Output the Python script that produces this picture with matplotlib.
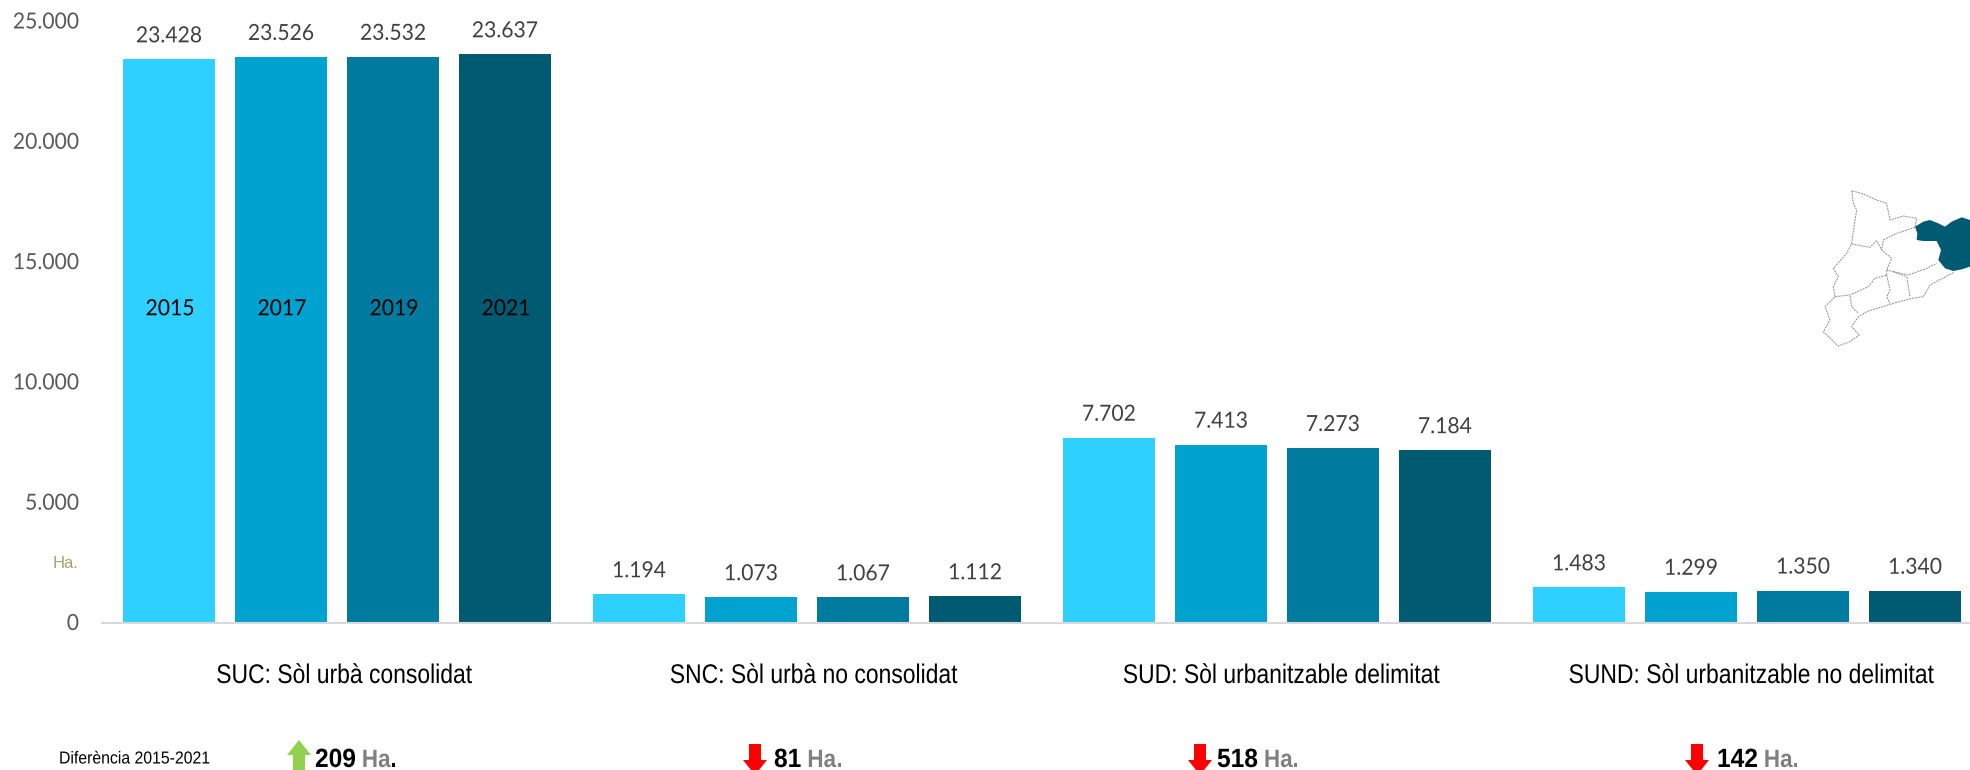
import matplotlib
matplotlib.use("Agg")
import matplotlib.pyplot as plt
from matplotlib.patches import Polygon
from matplotlib.patheffects import AbstractPathEffect
from matplotlib.transforms import Affine2D

W, H = 1970, 770

# data
categories = ["SUC: Sòl urbà consolidat", "SNC: Sòl urbà no consolidat",
              "SUD: Sòl urbanitzable delimitat", "SUND: Sòl urbanitzable no delimitat"]
years = ["2015", "2017", "2019", "2021"]
values_2015 = [23428, 1194, 7702, 1483]
values_2017 = [23526, 1073, 7413, 1299]
values_2019 = [23532, 1067, 7273, 1350]
values_2021 = [23637, 1112, 7184, 1340]
diffs = ["209", "81", "518", "142"]
diff_up = [True, False, False, False]
yticks = [0, 5000, 10000, 15000, 20000, 25000]
colors = ["#2ED0FF", "#00A2D0", "#007BA0", "#005A72"]

series = [values_2015, values_2017, values_2019, values_2021]


class Squeeze(AbstractPathEffect):  # narrows text horizontally around pixel cx
    def __init__(self, sx, cx):
        super().__init__()
        self.sx = sx
        self.cx = cx

    def draw_path(self, renderer, gc, tpath, affine, rgbFace=None):
        squeeze = Affine2D().translate(-self.cx, 0).scale(self.sx, 1).translate(self.cx, 0)
        renderer.draw_path(gc, tpath, affine + squeeze, rgbFace)


def fmt(v):  # dots as thousands separator
    return "{:,}".format(v).replace(",", ".")


def ptext(x, y, s, sx=1.0, **kw):  # text placed in figure pixels, optionally narrowed
    kw.setdefault("va", "center")
    t = fig.text(x / W, 1 - y / H, s, **kw)
    if sx != 1.0:
        t.set_path_effects([Squeeze(sx, x)])
    return t


fig = plt.figure(figsize=(W / 100, H / 100), dpi=100, facecolor="white")

# axes in pixels: x 102-1970, y 21.5-623
ax = fig.add_axes([102 / W, 1 - 623 / H, (W - 102) / W, (623 - 21.5) / H])
ax.set_ylim(0, 25000)
group_pitch, bar_pitch, bar_w = 470, 112, 92
ax.set_xlim(102, W)

for s, vals in enumerate(series):
    xs = [123 + g * group_pitch + s * bar_pitch + bar_w / 2 for g in range(len(vals))]
    ax.bar(xs, vals, width=bar_w, color=colors[s])
    for x, v in zip(xs, vals):
        lab = ax.annotate(fmt(v), (x, v), xytext=(0, 23), textcoords="offset pixels",
                          ha="center", va="center", fontsize=16, family="Lato", color="#404040")
        lab.set_path_effects([Squeeze(0.95, ax.transData.transform((x, v))[0])])
    yr = ax.text(xs[0] + 1, 13040, years[s], ha="center", va="center", fontsize=16,
                 family="Lato", color="black")
    yr.set_path_effects([Squeeze(0.95, ax.transData.transform((xs[0] + 1, 0))[0])])

for side in ["top", "right", "left"]:
    ax.spines[side].set_visible(False)
ax.spines["bottom"].set_color("#D9D9D9")
ax.spines["bottom"].set_linewidth(1.5)
ax.set_xticks([])
ax.set_yticks([])
ax.patch.set_alpha(0)

for t in yticks:
    py = 623 - t / 25000 * (623 - 21.5)
    ptext(79, py + 1, fmt(t), sx=0.95, ha="right", fontsize=16, family="Lato", color="#595959")

ptext(53, 563, "Ha.", fontsize=12, family="Liberation Sans", color="#A89F6E")
ptext(59, 759, "Diferència 2015-2021", sx=0.91, fontsize=12.5, family="Liberation Sans", color="black")

cat_x = [344, 813.5, 1281, 1751]
for x, c in zip(cat_x, categories):
    ptext(x, 676, c, sx=0.85, ha="center", fontsize=19.4, family="Liberation Sans", color="black")

# overlay in pixel coordinates for arrows and the map
ov = fig.add_axes([0, 0, 1, 1])
ov.set_xlim(0, W)
ov.set_ylim(H, 0)
ov.axis("off")

arrow_x = [299, 755, 1200, 1697]
num_x = [315, 774, 1217, 1717]
for a_x, nx, d, up in zip(arrow_x, num_x, diffs, diff_up):
    if up:
        pts = [(a_x, 740), (a_x + 12, 755), (a_x + 6, 755), (a_x + 6, 775), (a_x - 6, 775), (a_x - 6, 755), (a_x - 12, 755)]
        ov.add_patch(Polygon(pts, color="#92D050", lw=0))
    else:
        pts = [(a_x - 6, 744), (a_x + 6, 744), (a_x + 6, 760), (a_x + 12, 760), (a_x, 775), (a_x - 12, 760), (a_x - 6, 760)]
        ov.add_patch(Polygon(pts, color="#FF0000", lw=0))
    bold = dict(fontweight="bold", family="Liberation Sans")
    t = ptext(nx, 760, d, sx=0.93, color="black", fontsize=19, **bold)
    fig.canvas.draw()
    end = nx + t.get_window_extent().width * 0.93 + 6
    t2 = ptext(end, 760, "Ha", sx=0.9, color="#808080", fontsize=18, **bold)
    end2 = end + t2.get_window_extent().width * 0.9
    ptext(end2, 760, ".", sx=0.9, color="black" if up else "#808080", fontsize=18, **bold)


def mp(points):  # map crop coords to figure pixels
    return [(1780 + a / 3, 170 + b / 3) for a, b in points]


dark = [(405, 170), (430, 155), (450, 150), (475, 160), (495, 170), (515, 155), (545, 142), (570, 150), (570, 290),
        (545, 298), (520, 303), (495, 295), (475, 270), (483, 240), (470, 213), (430, 213), (410, 210), (412, 190)]
ov.add_patch(Polygon(mp(dark), color="#005A72", lw=0))
borders = [
    [(405, 170), (410, 145), (370, 138), (330, 150), (320, 100), (290, 90), (250, 72), (215, 62), (220, 100), (230, 120),
     (222, 170), (215, 220), (200, 250), (160, 295), (175, 320), (160, 350), (165, 380), (135, 410), (150, 450),
     (130, 485), (175, 528), (210, 515), (238, 495), (215, 470), (235, 440), (260, 425), (340, 400), (395, 385),
     (430, 380), (450, 345), (520, 308)],
    [(405, 172), (350, 190), (310, 210), (305, 240), (335, 265), (320, 300), (340, 305), (385, 315), (440, 295), (470, 280)],
    [(215, 222), (270, 232), (290, 212), (305, 240)],
    [(320, 300), (320, 315), (285, 325), (265, 350), (210, 375), (165, 380)],
    [(320, 315), (330, 360), (320, 380), (330, 400)],
    [(340, 305), (380, 320), (390, 380)],
    [(210, 378), (215, 410), (235, 430)],
]
for b in borders:
    pts = mp(b)
    ov.plot([p[0] for p in pts], [p[1] for p in pts], color="#8C8C8C", lw=0.7, ls=(0, (2, 1)))

fig.savefig("out.png", dpi=100)
